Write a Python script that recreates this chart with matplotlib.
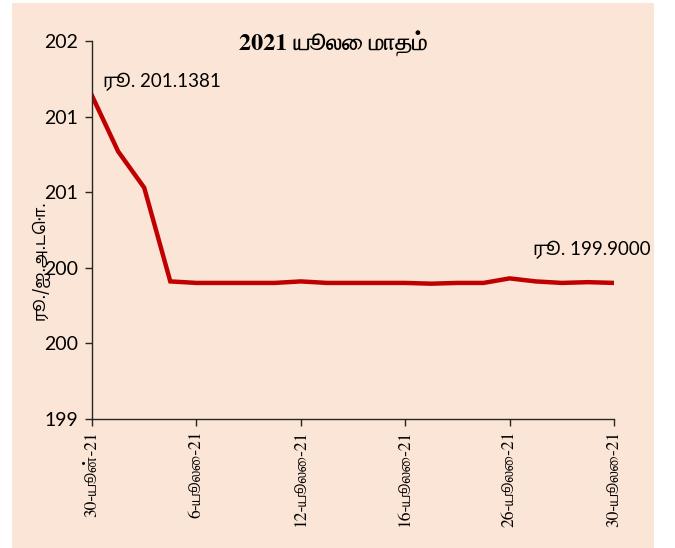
import matplotlib
matplotlib.use('Agg')
import matplotlib.pyplot as plt
from matplotlib.patches import Rectangle

# data
dates = ['30-யூன்-21', '1-யூலை-21', '2-யூலை-21', '5-யூலை-21', '6-யூலை-21',
         '7-யூலை-21', '8-யூலை-21', '9-யூலை-21', '12-யூலை-21', '13-யூலை-21',
         '14-யூலை-21', '15-யூலை-21', '16-யூலை-21', '19-யூலை-21', '20-யூலை-21',
         '22-யூலை-21', '26-யூலை-21', '27-யூலை-21', '28-யூலை-21', '29-யூலை-21',
         '30-யூலை-21']
rates = [201.1381, 200.77, 200.53, 199.91, 199.90, 199.90, 199.90, 199.90,
         199.91, 199.90, 199.90, 199.90, 199.90, 199.895, 199.90, 199.90,
         199.93, 199.91, 199.90, 199.905, 199.90]
y_ticks = [199.0, 199.5, 200.0, 200.5, 201.0, 201.5]
y_tick_labels = ['199', '200', '200', '201', '201', '202']

bg = '#FBE5D6'
fig = plt.figure(figsize=(6.75, 5.48), dpi=100)
fig.patches.append(Rectangle((12 / 675, 0), 642 / 675, 545 / 548,
                             transform=fig.transFigure, facecolor=bg,
                             edgecolor='none', zorder=-5))
ax = fig.add_axes([92 / 675, 1 - 419 / 548, 522 / 675, 378 / 548])
ax.set_facecolor('none')

ax.plot(range(len(rates)), rates, color='#C00000', linewidth=3.2,
        solid_joinstyle='miter')
ax.set_xlim(0, len(rates) - 1)
ax.set_ylim(199.0, 201.5)

ax.set_yticks(y_ticks)
ax.set_yticklabels(y_tick_labels, fontsize=14, family='Lato')
idx = list(range(0, len(dates), 4))
ax.set_xticks(idx)
ax.set_xticklabels([dates[i] for i in idx], rotation=90, fontsize=12.5,
                   family=['FreeSerif'])

for s in ['top', 'right']:
    ax.spines[s].set_visible(False)
for s in ['left', 'bottom']:
    ax.spines[s].set_color('#262626')
    ax.spines[s].set_linewidth(1.0)
ax.tick_params(length=5, color='#262626', width=1.0)
ax.tick_params(axis='y', pad=5)

ax.annotate('ரூ. 201.1381', (0, rates[0]), xytext=(8, 6),
            textcoords='offset points', fontsize=13.5,
            family=['Lato', 'Noto Sans Tamil'])
ax.annotate('ரூ. 199.9000', (len(rates) - 1, rates[-1]), xytext=(-58, 20),
            textcoords='offset points', fontsize=13.5,
            family=['Lato', 'Noto Sans Tamil'])

fig.text(333 / 675, 1 - 44 / 548, '2021 யூலை மாதம்', ha='center', va='center',
         fontsize=17.5, fontweight='bold', family=['FreeSerif'])
fig.text(40 / 675, 1 - 260 / 548, 'ரூ./ஐ.அ.டொ.', rotation=90, ha='center',
         va='center', fontsize=11.5, family=['Noto Sans Tamil'])

fig.savefig('out.png', dpi=100)
